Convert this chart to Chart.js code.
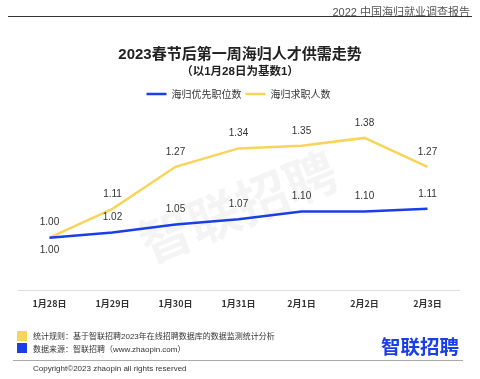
<!DOCTYPE html>
<html><head><meta charset="utf-8">
<script src="https://cdn.jsdelivr.net/npm/chart.js@4"></script>
<style>
html,body{margin:0;padding:0;background:#fff;}
body{width:480px;height:379px;position:relative;overflow:hidden;font-family:"Liberation Sans","Noto Sans CJK SC",sans-serif;}
#wrap{position:absolute;left:0;top:0;width:480px;height:379px;}
.t{position:absolute;white-space:nowrap;}
</style></head><body>
<div id="wrap"><canvas id="c" width="480" height="379"></canvas></div>
<div class="t" style="right:10px;top:3px;font-size:11px;color:#555;">2022 中国海归就业调查报告</div>
<div style="position:absolute;left:8px;top:16px;width:464px;height:1px;background:#333;"></div>
<div class="t" style="left:0;width:480px;text-align:center;top:42px;font-size:15px;font-weight:bold;color:#222;">2023春节后第一周海归人才供需走势</div>
<div class="t" style="left:0;width:480px;text-align:center;top:62px;font-size:11.5px;font-weight:bold;color:#222;">（以1月28日为基数1）</div>
<div style="position:absolute;left:17px;top:331px;width:10px;height:10px;background:#f9d45a;"></div>
<div style="position:absolute;left:17px;top:343px;width:10px;height:10px;background:#1a3ee8;"></div>
<div class="t" style="left:33px;top:330px;font-size:8px;color:#333;">统计规则：基于智联招聘2023年在线招聘数据库的数据监测统计分析</div>
<div class="t" style="left:33px;top:343px;font-size:8px;color:#333;">数据来源：智联招聘（www.zhaopin.com）</div>
<div class="t" style="left:381px;top:331px;font-size:19.5px;font-weight:bold;color:#1a3ee8;font-family:'Noto Sans CJK SC';">智联招聘</div>
<div style="position:absolute;left:13px;top:360px;width:450px;height:1px;background:#aaa;"></div>
<div class="t" style="left:33px;top:364px;font-size:8px;color:#333;">Copyright©2023 zhaopin all rights reserved</div>
<script>
const categories = ["1月28日","1月29日","1月30日","1月31日","2月1日","2月2日","2月3日"];
const jobPostings = [1.00,1.02,1.05,1.07,1.10,1.10,1.11];
const jobSeekers = [1.00,1.11,1.27,1.34,1.35,1.38,1.27];
const seriesNames = ["海归优先职位数","海归求职人数"];
const BLUE = "#1a3ee8", YELLOW = "#f9d45a";

const watermark = {
  id:"watermark",
  beforeDatasetsDraw(chart){
    const ctx = chart.ctx;
    ctx.save();
    ctx.translate(238,207);
    ctx.rotate(-22*Math.PI/180);
    ctx.font = "bold 52px 'Noto Sans CJK SC'";
    ctx.fillStyle = "rgba(0,0,0,0.045)";
    ctx.textAlign = "center";
    ctx.textBaseline = "middle";
    ctx.fillText("智联招聘",0,0);
    ctx.restore();
  }
};
const valueLabels = {
  id:"valueLabels",
  afterDatasetsDraw(chart){
    const ctx = chart.ctx;
    ctx.save();
    ctx.font = "10px 'Liberation Sans', sans-serif";
    ctx.fillStyle = "#333";
    ctx.textAlign = "center";
    ctx.textBaseline = "middle";
    chart.data.datasets.forEach((ds,di)=>{
      const meta = chart.getDatasetMeta(di);
      meta.data.forEach((pt,i)=>{
        const below = (di===0 && i===0);
        ctx.fillText(ds.data[i].toFixed(2), pt.x, below ? pt.y+13 : pt.y-15);
      });
    });
    ctx.restore();
  }
};

new Chart(document.getElementById("c"),{
  type:"line",
  data:{labels:categories,datasets:[
    {label:seriesNames[0],data:jobPostings,borderColor:BLUE,backgroundColor:BLUE,borderWidth:2.5,pointRadius:0,tension:0},
    {label:seriesNames[1],data:jobSeekers,borderColor:YELLOW,backgroundColor:YELLOW,borderWidth:2.5,pointRadius:0,tension:0}
  ]},
  options:{
    responsive:false,animation:false,
    layout:{padding:{top:85,left:18,right:21,bottom:70}},
    plugins:{
      legend:{display:true,labels:{usePointStyle:true,pointStyle:"line",pointStyleWidth:20,boxWidth:20,boxHeight:2,color:"#333",font:{size:10,family:"'Noto Sans CJK SC'"},padding:4}},
      tooltip:{enabled:false},
      title:{display:false}
    },
    scales:{
      x:{offset:true,grid:{display:false},border:{display:true,color:"#ddd",width:1},
         ticks:{color:"#333",font:{size:9,weight:"bold",family:"'Noto Sans CJK SC'"},padding:0,maxRotation:0}},
      y:{display:false,min:0.8,max:1.49}
    }
  },
  plugins:[watermark,valueLabels]
});
</script>
</body></html>
